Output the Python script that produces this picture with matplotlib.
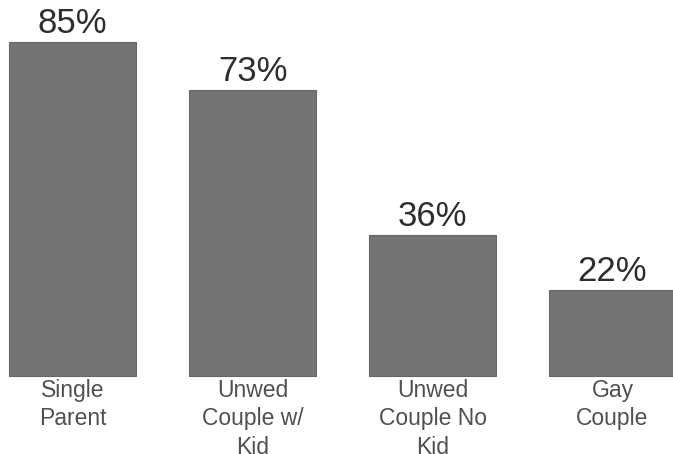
import matplotlib.pyplot as plt

categories = ["Single\nParent", "Unwed\nCouple w/\nKid", "Unwed\nCouple No\nKid", "Gay\nCouple"]
values = [85, 73, 36, 22]
value_labels = ["85%", "73%", "36%", "22%"]

plt.rcParams["font.family"] = ["Liberation Sans", "DejaVu Sans"]

fig = plt.figure(figsize=(6.73, 4.54), dpi=100)
ax = fig.add_axes([0, 0, 1, 1])

x = list(range(len(values)))
bars = ax.bar(x, values, width=0.71, color="#727476", edgecolor="#65676a", linewidth=0.8)

for xi, v, lab in zip(x, values, value_labels):
    ax.annotate(lab, (xi, v), xytext=(0, 6.5), textcoords="offset points",
                ha="center", va="baseline", fontsize=25, color="#2e2e2e")

for xi, cat in zip(x, categories):
    ax.annotate(cat, (xi, 0), xytext=(0, -2), textcoords="offset points",
                ha="center", va="top", fontsize=16.5, color="#505050",
                linespacing=1.3)

ax.set_xlim(-0.403, 3.336)
ax.set_ylim(-19.88, 95.82)
ax.axis("off")

fig.savefig("out.png", dpi=100)
